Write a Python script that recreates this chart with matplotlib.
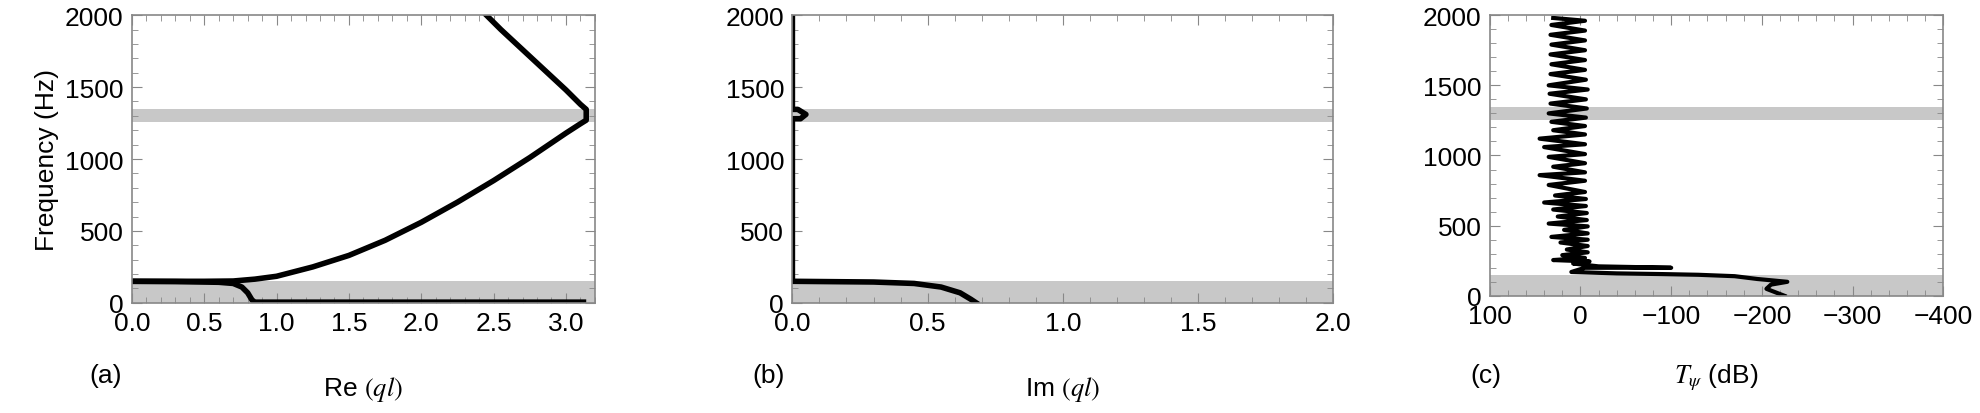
import matplotlib
matplotlib.use("Agg")
import matplotlib.pyplot as plt
from matplotlib.ticker import MultipleLocator

plt.rcParams['font.family'] = ['Liberation Sans', 'DejaVu Sans']
plt.rcParams['mathtext.fontset'] = 'stix'

bands = [(0, 150), (1255, 1345)]

# Panel (a): Re(ql)
a_low_re = [0.0, 0.3, 0.6, 0.7, 0.76, 0.8, 0.83, 0.85, 1.5, 2.5, 3.14]
a_low_f = [150, 148, 143, 135, 110, 70, 20, 5, 5, 5, 5]
a_up_re = [0.0, 0.5, 0.7, 0.85, 1.0, 1.25, 1.5, 1.75, 2.0, 2.25, 2.5, 2.75, 3.0, 3.1, 3.14, 3.14,
           3.1, 3.0, 2.85, 2.7, 2.55, 2.45]
a_up_f = [150, 150, 152, 165, 185, 250, 330, 435, 560, 700, 850, 1010, 1180, 1245, 1270, 1345,
          1380, 1480, 1620, 1760, 1900, 2000]

# Panel (b): Im(ql)
b_im = [0.0, 0.0, 0.02, 0.05, 0.03, 0.0, 0.0, 0.0, 0.3, 0.45, 0.55, 0.62, 0.66, 0.68]
b_f = [2000, 1345, 1345, 1310, 1280, 1280, 150, 150, 145, 135, 110, 70, 25, 0]

# Panel (c): T_psi (dB)
c_t = [-225, -205, -210, -228, -195, -170, -130, -90, -40, 10, -5, -100, -20, 8, -10, 30,
       -5, 20, -8, 15, -8, 22, -8, 32, -8, 18, -8, 35, -7, 25, -7, 30, -6, 40, -6, 28, -5, 35,
       -5, 45, -5, 30, -5, 35, -5, 40, -5, 45, -5, 30, -5, 32, -6, 35, -7, 33, -6, 34, -8, 35,
       -6, 33, -5, 32, -5, 33, -5, 32, -5, 33, -5, 32, -5, 30]
c_f = [0, 50, 80, 100, 120, 140, 150, 155, 160, 170, 200, 200, 210, 230, 245, 255,
       270, 290, 310, 330, 355, 380, 400, 420, 445, 470, 495, 515, 540, 565, 590, 615, 640, 665,
       690, 715, 740, 790, 820, 860, 880, 920, 945, 990, 1010, 1060, 1080, 1120, 1150, 1180, 1210,
       1240, 1270, 1300, 1335, 1370, 1400, 1440, 1470, 1500, 1540, 1580, 1610, 1650, 1680, 1720,
       1750, 1790, 1820, 1860, 1890, 1930, 1960, 1980]

fig = plt.figure(figsize=(19.81, 4.14), dpi=100)
axa = fig.add_axes([0.0666, 0.266, 0.2337, 0.695])
axb = fig.add_axes([0.400, 0.266, 0.273, 0.695])
axc = fig.add_axes([0.752, 0.283, 0.229, 0.678])

def style(ax):
    for s in ax.spines.values():
        s.set_color('#888888')
        s.set_linewidth(1.2)
    ax.tick_params(which='both', direction='in', top=True, right=True, color='#888888',
                   labelsize=19, pad=6)
    ax.tick_params(which='major', length=7)
    ax.tick_params(which='minor', length=4)
    ax.set_ylim(0, 2000)
    ax.yaxis.set_major_locator(MultipleLocator(500))
    ax.yaxis.set_minor_locator(MultipleLocator(100))
    for lo, hi in bands:
        ax.axhspan(lo, hi, color='#c8c8c8', lw=0, zorder=0)

for ax in (axa, axb, axc):
    style(ax)

axa.plot(a_low_re, a_low_f, color='black', lw=4, solid_capstyle='butt')
axa.plot(a_up_re, a_up_f, color='black', lw=4)
axa.set_xlim(0, 3.2)
axa.xaxis.set_major_locator(MultipleLocator(0.5))
axa.xaxis.set_minor_locator(MultipleLocator(0.1))
axa.xaxis.set_major_formatter(matplotlib.ticker.FormatStrFormatter('%.1f'))
axa.set_ylabel('Frequency (Hz)', fontsize=19)
axa.set_xlabel('Re $(ql)$', fontsize=19, labelpad=28)

axb.plot(b_im, b_f, color='black', lw=4)
axb.set_xlim(0, 2.0)
axb.xaxis.set_major_locator(MultipleLocator(0.5))
axb.xaxis.set_minor_locator(MultipleLocator(0.1))
axb.xaxis.set_major_formatter(matplotlib.ticker.FormatStrFormatter('%.1f'))
axb.set_xlabel('Im $(ql)$', fontsize=19, labelpad=28)

n = min(len(c_t), len(c_f))
axc.plot(c_t[:n], c_f[:n], color='black', lw=3)
axc.set_xlim(100, -400)
axc.xaxis.set_major_locator(MultipleLocator(100))
axc.xaxis.set_minor_locator(MultipleLocator(20))
axc.xaxis.set_major_formatter(matplotlib.ticker.FuncFormatter(
    lambda v, p: f'{int(v)}'.replace('-', '\u2212')))
axc.set_xlabel(r'$T_\psi$ (dB)', fontsize=19, labelpad=24)

fig.text(0.045, 0.075, '(a)', fontsize=19)
fig.text(0.380, 0.075, '(b)', fontsize=19)
fig.text(0.742, 0.075, '(c)', fontsize=19)

fig.savefig('out.png', dpi=100)
